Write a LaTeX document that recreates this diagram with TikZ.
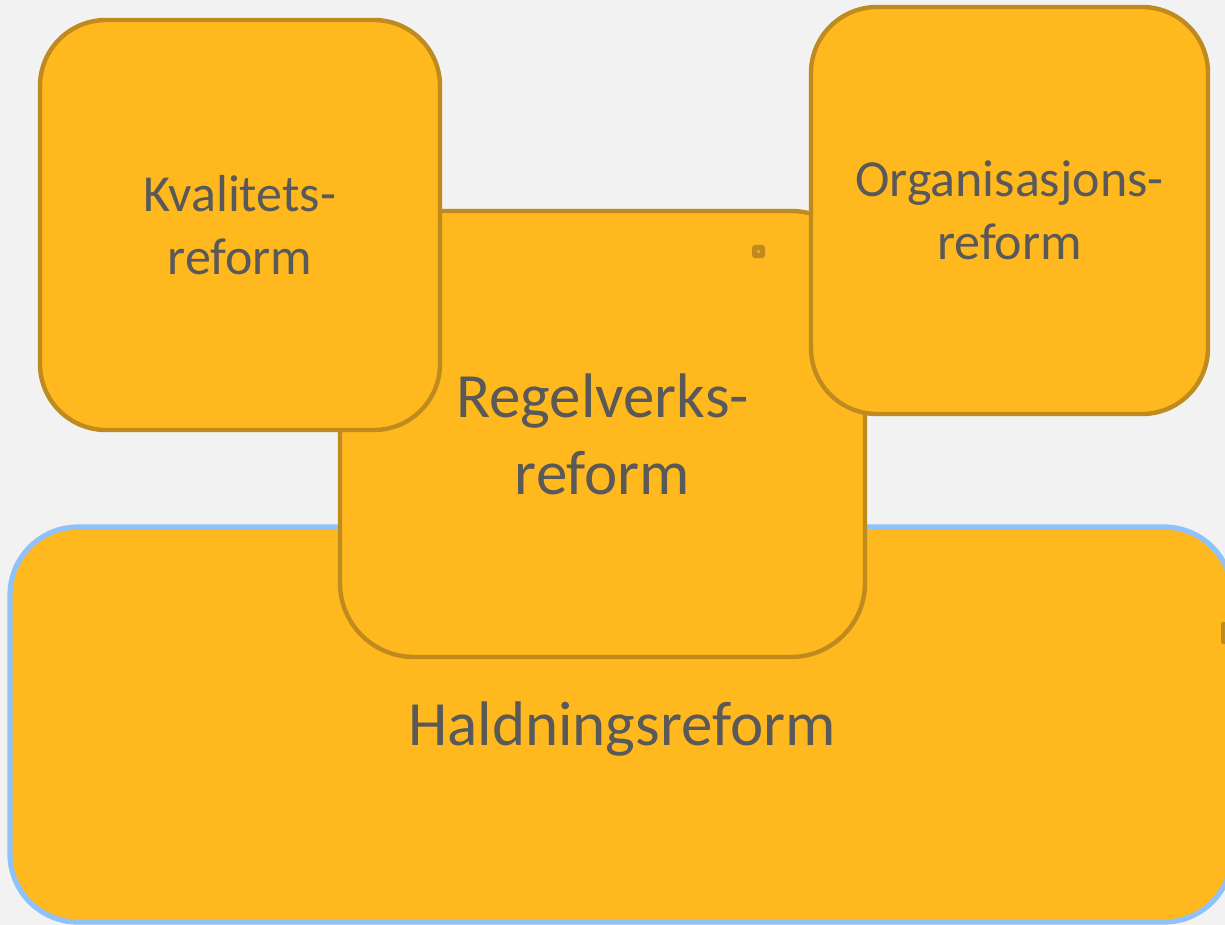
\documentclass[tikz,border=0pt]{standalone}
\usepackage{fontspec}
\setmainfont{Carlito}
\usepackage{xcolor}
\definecolor{reformfill}{RGB}{255,184,30}
\definecolor{reformedge}{RGB}{191,138,30}
\definecolor{haldedge}{RGB}{143,193,250}
\definecolor{reformtext}{RGB}{89,89,89}
\definecolor{backgr}{RGB}{242,242,242}

\begin{document}
\begin{tikzpicture}[%
      x=0.5pt, y=-0.5pt,
      reformbox/.style={draw=reformedge, line width=2.2pt, fill=reformfill,
        text=reformtext, align=center, inner sep=0pt},
      ]
      \clip (0,0) rectangle (1225,925);
      \fill [backgr] (0,0) rectangle (1225,925);

      \node [reformbox, draw=haldedge, line width=2.6pt, rounded corners=34pt,
        minimum width=611pt, minimum height=197.5pt] (hald) at (621,724.5) {};
      \node [text=reformtext, font=\fontsize{31.5}{38.5}\selectfont,
        inner sep=0pt] (haldtext) at (622,729) {Haldningsreform};
      \fill [reformedge, rounded corners=1pt] (1221,622) rectangle (1229,644);

      \node [reformbox, rounded corners=37pt,
        minimum width=262.5pt, minimum height=223pt,
        font=\fontsize{31.5}{38.5}\selectfont] (regel) at (602.5,434) {Regelverks-\\reform};
      \fill [reformedge, rounded corners=1.5pt] (752,245) rectangle (765,258);
      \fill [reformfill!70!reformedge] (757,250) rectangle (760,253);

      \node [reformbox, rounded corners=33pt,
        minimum width=200pt, minimum height=205pt,
        font=\fontsize{26}{31.5}\selectfont] (kval) at (240,225) {Kvalitets-\\reform};

      \node [reformbox, rounded corners=33pt,
        minimum width=198.5pt, minimum height=203.5pt,
        font=\fontsize{26}{31.5}\selectfont] (org) at (1009.5,210.5) {Organisasjons-\\reform};
      \end{tikzpicture}
\end{document}
